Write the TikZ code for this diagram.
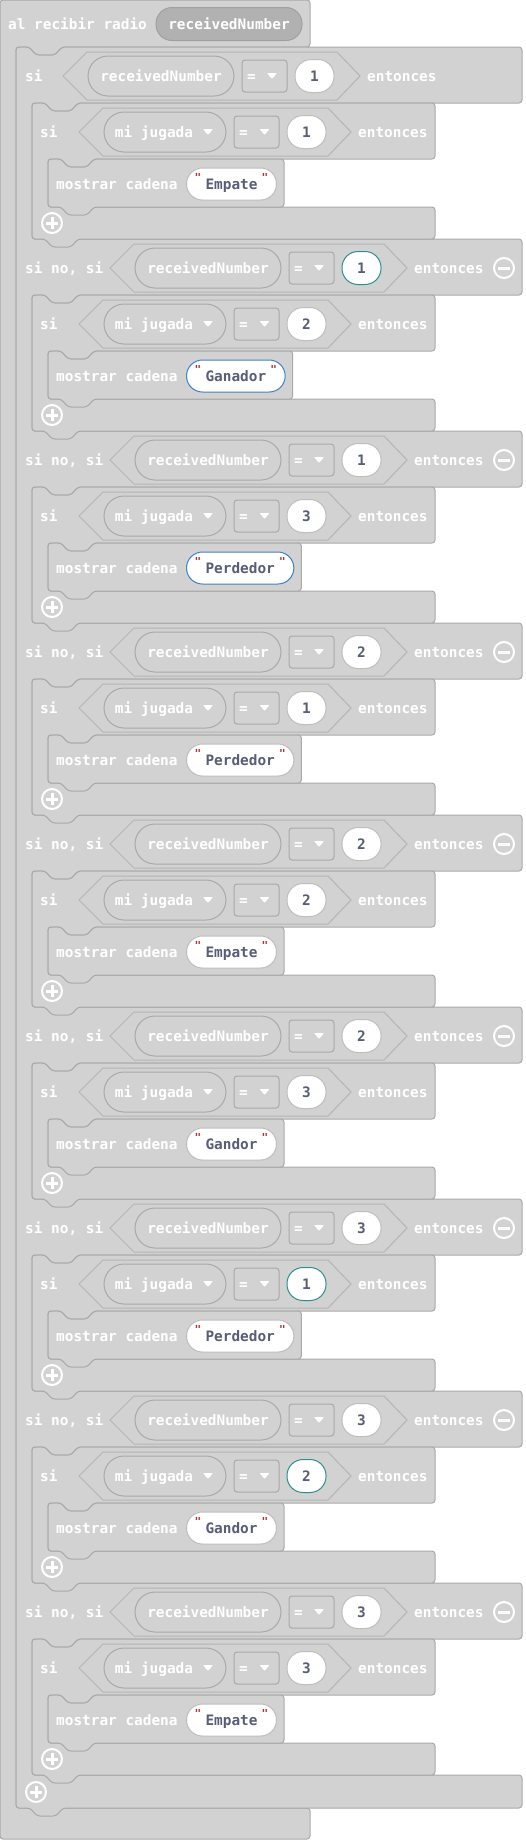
\documentclass[tikz,border=0pt]{standalone}
\usepackage{fontspec}
\newfontfamily\codefont{DejaVu Sans Mono}
\newcommand{\blocksize}{\codefont\bfseries\fontsize{14.4pt}{17pt}\selectfont}
\newcommand{\quotesize}{\codefont\bfseries\fontsize{11pt}{11pt}\selectfont}
\definecolor{blockfill}{HTML}{D2D2D2}
\definecolor{blockline}{HTML}{A9A9A9}
\definecolor{condline}{HTML}{B4B4B4}
\definecolor{hatvar}{HTML}{B1B1B1}
\definecolor{hatline}{HTML}{A0A0A0}
\definecolor{numtext}{HTML}{575E75}
\definecolor{numline}{HTML}{BEBEBE}
\definecolor{tealline}{HTML}{2A8F8F}
\definecolor{blueline}{HTML}{3F7FCC}
\definecolor{quotered}{HTML}{B83232}

\begin{document}
\begin{tikzpicture}[x=1pt, y=-1pt,
    blockshape/.style={fill=blockfill, draw=blockline, line width=1pt, rounded corners=3pt},
    condshape/.style={fill=blockfill, draw=condline, line width=1pt},
    blocktext/.style={anchor=base west, inner sep=0pt, text=white, font=\blocksize},
    varoval/.style={draw=blockline, fill=blockfill, line width=1pt, minimum height=40pt,
        rounded corners=20pt, inner sep=0pt, text height=10.5pt, text depth=0pt,
        text=white, font=\blocksize},
    dropbox/.style={draw=blockline, fill=blockfill, line width=1pt, minimum width=45pt,
        minimum height=32pt, rounded corners=3pt, inner sep=0pt, text height=10.5pt,
        text depth=0pt, text=white, font=\blocksize},
    numoval/.style={fill=white, line width=1pt, minimum width=39pt, minimum height=33pt,
        rounded corners=16pt, inner sep=0pt, text height=10.5pt, text depth=0pt,
        text=numtext, font=\blocksize},
    stroval/.style={fill=white, line width=1pt, anchor=west, inner xsep=19pt, inner ysep=0pt,
        minimum height=32pt, rounded corners=16pt, text height=10.5pt, text depth=0pt,
        text=numtext, font=\blocksize},
    quotemark/.style={inner sep=0pt, text=quotered, font=\quotesize},
    dropmark/.style={fill=white, rounded corners=0.8pt},
    iconring/.style={circle, draw=white, line width=2pt, minimum size=20pt, inner sep=0pt},
    iconbar/.style={draw=white, line width=3pt}
]
\useasboundingbox (0,0) rectangle (526,1840);

% al recibir radio
\draw[blockshape] (0,900) -- (0,0) -- (310,0) -- (310,47) -- (62,47) -- (55,55) -- (36,55)
  -- (29,47) -- (16,47) -- (16,1808) -- (310,1808) -- (310,1839) -- (0,1839) -- cycle;
\node[blocktext] (hat) at (8,29) {al recibir radio};
\node[varoval, fill=hatvar, draw=hatline, minimum width=146pt, minimum height=33pt,
  rounded corners=16pt] (hatnum) at (229,24) {receivedNumber};

% si / si no, si
\draw[blockshape] (16,900) -- (16,47) -- (29,47) -- (36,55) -- (55,55) -- (62,47) -- (522,47)
  \foreach \k in {0,...,8} { -- (522,103+192*\k) -- (78,103+192*\k) -- (71,111+192*\k)
    -- (52,111+192*\k) -- (45,103+192*\k) -- (32,103+192*\k) -- (32,239+192*\k)
    -- (522,239+192*\k) }
  -- (522,1808) -- (63,1808) -- (56,1816) -- (37,1816) -- (30,1808) -- (16,1808) -- cycle;
\node[iconring] (plusall) at (36,1792) {};
\draw[iconbar] ([xshift=-6pt]plusall.center) -- ([xshift=6pt]plusall.center)
  ([yshift=-6pt]plusall.center) -- ([yshift=6pt]plusall.center);

\foreach \k/\a/\b/\str/\n/\ca/\cb/\cs in {
    0/1/1/Empate/6/numline/numline/numline,
    1/1/2/Ganador/7/tealline/numline/blueline,
    2/1/3/Perdedor/8/numline/numline/blueline,
    3/2/1/Perdedor/8/numline/numline/numline,
    4/2/2/Empate/6/numline/numline/numline,
    5/2/3/Gandor/6/numline/numline/numline,
    6/3/1/Perdedor/8/numline/tealline/numline,
    7/3/2/Gandor/6/numline/tealline/numline,
    8/3/3/Empate/6/numline/numline/numline} {
  \pgfmathsetmacro\y{47+192*\k}
  \pgfmathsetmacro\X{\k==0 ? 63 : 110}
  \pgfmathsetmacro\Rm{232+8.67*\n}
  % inner si and mostrar cadena
  \draw[blockshape] (32,\y+120) -- (32,\y+56) -- (45,\y+56) -- (52,\y+64) -- (71,\y+64)
    -- (78,\y+56) -- (435,\y+56) -- (435,\y+112) -- (94,\y+112) -- (87,\y+120) -- (68,\y+120)
    -- (61,\y+112) -- (48,\y+112) -- (48,\y+160) -- (435,\y+160) -- (435,\y+192) -- (78,\y+192)
    -- (71,\y+200) -- (52,\y+200) -- (45,\y+192) -- (32,\y+192) -- cycle;
  \draw[blockshape] (48,\y+136) -- (48,\y+112) -- (61,\y+112) -- (68,\y+120) -- (87,\y+120)
    -- (94,\y+112) -- (\Rm,\y+112) -- (\Rm,\y+160) -- (94,\y+160) -- (87,\y+168) -- (68,\y+168)
    -- (61,\y+160) -- (48,\y+160) -- cycle;
  % header row
  \ifnum\k=0
    \node[blocktext] (head\k) at (25,\y+34) {si};
  \else
    \node[blocktext] (head\k) at (25,\y+34) {si no, si};
    \node[iconring] (minus\k) at (504,\y+29) {};
    \draw[iconbar] ([xshift=-6pt]minus\k.center) -- ([xshift=6pt]minus\k.center);
  \fi
  \draw[condshape] (\X,\y+29) -- ++(24,-24) -- ++(250,0) -- ++(23,24) -- ++(-23,24)
    -- ++(-250,0) -- cycle;
  \node[varoval, minimum width=146pt] (rnum\k) at (\X+98,\y+29) {receivedNumber};
  \node[dropbox] (rop\k) at (\X+201.5,\y+29) {=\hspace*{26pt}};
  \fill[dropmark] ([xshift=7.5pt]rop\k.center) ++(-5,-3) -- ++(10,0) -- ++(-5,6) -- cycle;
  \node[numoval, draw=\ca] (rval\k) at (\X+251.5,\y+29) {\a};
  \node[blocktext] (rthen\k) at (\X+304,\y+34) {entonces};
  % inner row
  \node[blocktext] (isi\k) at (40,\y+90) {si};
  \draw[condshape] (79,\y+85) -- ++(24,-24) -- ++(225,0) -- ++(23,24) -- ++(-23,24)
    -- ++(-225,0) -- cycle;
  \node[varoval, minimum width=122pt] (play\k) at (165,\y+85) {mi jugada\hspace*{22pt}};
  \fill[dropmark] ([xshift=43pt]play\k.center) ++(-5,-3) -- ++(10,0) -- ++(-5,6) -- cycle;
  \node[dropbox] (pop\k) at (256.5,\y+85) {=\hspace*{26pt}};
  \fill[dropmark] ([xshift=8pt]pop\k.center) ++(-5,-3) -- ++(10,0) -- ++(-5,6) -- cycle;
  \node[numoval, draw=\cb] (pval\k) at (306.5,\y+85) {\b};
  \node[blocktext] (pthen\k) at (358,\y+90) {entonces};
  % mostrar cadena row
  \node[blocktext] (show\k) at (56,\y+142) {mostrar cadena};
  \node[stroval, draw=\cs] (str\k) at (186,\y+137) {\str};
  \node[quotemark] (qleft\k) at ([xshift=12pt,yshift=7pt]str\k.west) {"};
  \node[quotemark] (qright\k) at ([xshift=-12pt,yshift=7pt]str\k.east) {"};
  \node[iconring] (plus\k) at (52,\y+176) {};
  \draw[iconbar] ([xshift=-6pt]plus\k.center) -- ([xshift=6pt]plus\k.center)
    ([yshift=-6pt]plus\k.center) -- ([yshift=6pt]plus\k.center);
}
\end{tikzpicture}
\end{document}
